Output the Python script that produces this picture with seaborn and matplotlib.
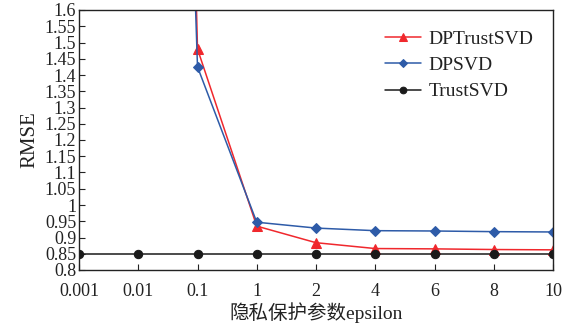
import matplotlib
matplotlib.use('Agg')
import matplotlib.pyplot as plt
import seaborn as sns
import pandas as pd
import numpy as np

# ---- data ----
epsilons = ['0.001', '0.01', '0.1', '1', '2', '4', '6', '8', '10']
dptrustsvd = [8.9, 8.6, 1.48, 0.935, 0.884, 0.866, 0.865, 0.863, 0.862]
dpsvd = [7.2, 6.9, 1.425, 0.947, 0.929, 0.921, 0.920, 0.918, 0.917]
trustsvd = [0.848, 0.848, 0.848, 0.848, 0.848, 0.848, 0.848, 0.848, 0.848]
series_names = ['DPTrustSVD', 'DPSVD', 'TrustSVD']
y_ticks = [0.8, 0.85, 0.9, 0.95, 1.0, 1.05, 1.1, 1.15, 1.2, 1.25, 1.3, 1.35,
           1.4, 1.45, 1.5, 1.55, 1.6]

sns.set_style('ticks')
plt.rcParams['font.family'] = ['Liberation Serif', 'Noto Sans CJK SC']
plt.rcParams['xtick.direction'] = 'in'
plt.rcParams['ytick.direction'] = 'in'

df = pd.DataFrame({
    'epsilon': epsilons * 3,
    'pos': list(range(len(epsilons))) * 3,
    'rmse': dptrustsvd + dpsvd + trustsvd,
    'model': [n for n in series_names for _ in epsilons],
})

fig = plt.figure(figsize=(5.7, 3.27), dpi=100)
ax = fig.add_axes([79 / 570, 1 - 270 / 327, (553 - 79) / 570, 260 / 327])

palette = {'DPTrustSVD': '#F0282D', 'DPSVD': '#2E5BA8', 'TrustSVD': '#1A1A1A'}
markers = {'DPTrustSVD': '^', 'DPSVD': 'D', 'TrustSVD': 'o'}
msizes = {'DPTrustSVD': 6.5, 'DPSVD': 5.0, 'TrustSVD': 6.0}

for name in series_names:
    sub = df[df['model'] == name]
    sns.lineplot(data=sub, x='pos', y='rmse', ax=ax, color=palette[name],
                 marker=markers[name], markersize=msizes[name],
                 markeredgecolor=palette[name], linewidth=1.1, label=name,
                 sort=False)

ax.set_xlim(0, len(epsilons) - 1)
ax.set_ylim(0.8, 1.6)
ax.set_xticks(range(len(epsilons)))
ax.set_xticklabels(epsilons)
ax.set_yticks(y_ticks)
ax.set_yticklabels(['%g' % v for v in y_ticks])
ax.tick_params(axis='both', labelsize=13, length=4.5, width=0.8,
               colors='#222222')
ax.tick_params(axis='x', pad=9, top=False)
ax.tick_params(axis='y', pad=2, right=False)
for s in ax.spines.values():
    s.set_visible(True)
    s.set_linewidth(1.0)
    s.set_color('#222222')

ax.set_xlabel('隐私保护参数epsilon', fontsize=14, color='#222222', labelpad=2)
ax.set_ylabel('RMSE', fontsize=15, color='#222222', labelpad=4)

leg = ax.legend(loc='upper right', frameon=False, fontsize=14,
                bbox_to_anchor=(0.995, 0.99), handlelength=1.9,
                handletextpad=0.35, labelspacing=0.45, markerscale=0.8)
for t in leg.get_texts():
    t.set_color('#222222')

fig.savefig('out.png', dpi=100)
